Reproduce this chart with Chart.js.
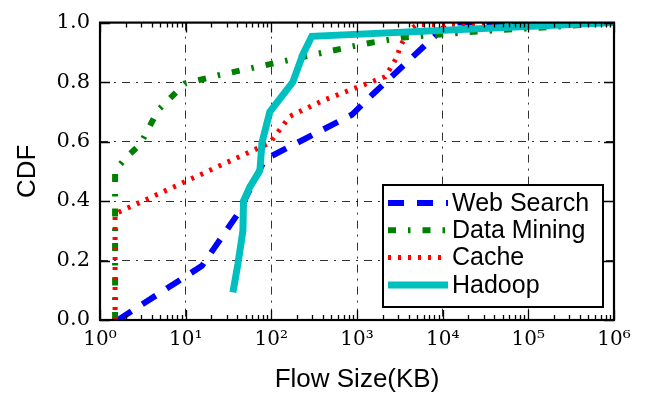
<!DOCTYPE html>
<html>
<head>
<meta charset="utf-8">
<script src="https://cdn.jsdelivr.net/npm/chart.js@4.4.1/dist/chart.umd.min.js"></script>
<style>
    html, body { margin: 0; padding: 0; background: #fff; }
</style>
</head>
<body>
<canvas id="cdfChart" width="650" height="395"></canvas>
<script>
// ─── Data (flow size in KB, CDF) ──────────────────────────────────────────
const webSearchKB   = [1.62, 15.5, 40, 84, 870, 1540, 5400, 12000, 1e6];
const webSearchCDF  = [0, 0.182, 0.354, 0.54, 0.69, 0.76, 0.907, 1.0, 1.0];

const dataMiningKB  = [1.5, 1.5, 2.12, 2.93, 4.75, 6.56, 9.8, 25, 68, 178, 480, 1310, 3440, 9300, 25000, 480000, 1e6];
const dataMiningCDF = [0, 0.503, 0.553, 0.589, 0.705, 0.745, 0.795, 0.824, 0.851, 0.877, 0.904, 0.93, 0.95, 0.96, 0.97, 0.993, 1.0];

const cacheKB       = [1.5, 1.5, 96, 165, 400, 1310, 2130, 2420, 2930, 3170, 3620, 4150, 5000, 1e6];
const cacheCDF      = [0, 0.357, 0.596, 0.685, 0.738, 0.795, 0.818, 0.844, 0.884, 0.917, 0.95, 0.977, 0.993, 1.0];

const hadoopKB      = [35.6, 40.8, 46.6, 47.3, 56, 73.6, 77.7, 96, 178, 234, 297, 1e6];
const hadoopCDF     = [0.093, 0.19, 0.30, 0.40, 0.447, 0.503, 0.596, 0.70, 0.80, 0.894, 0.954, 1.0];

const xDecades = [1, 10, 100, 1000, 10000, 100000, 1000000];
const yTicks   = [0, 0.2, 0.4, 0.6, 0.8, 1.0];
const SUP = ['⁰', '¹', '²', '³', '⁴', '⁵', '⁶'];

const toPoints = (xs, ys) => xs.map((v, i) => ({ x: v, y: ys[i] }));

const SERIF = "'DejaVu Serif', serif";
const SANS  = "'Liberation Sans', Arial, sans-serif";

// ─── Frame, inward ticks and legend box ───────────────────────────────────
const framePlugin = {
    id: 'frame',
    afterDatasetsDraw(chart) {
        const { ctx, chartArea: a, scales: { x, y } } = chart;
        ctx.save();
        ctx.strokeStyle = '#000';
        ctx.lineWidth = 1.3;
        ctx.beginPath();
        for (let d = 0; d < xDecades.length - 1; d++) {
            for (let m = 2; m <= 9; m++) {
                const px = Math.round(x.getPixelForValue(m * xDecades[d])) + 0.5;
                ctx.moveTo(px, a.bottom); ctx.lineTo(px, a.bottom - 5);
                ctx.moveTo(px, a.top);    ctx.lineTo(px, a.top + 5);
            }
        }
        xDecades.forEach(v => {
            const px = Math.round(x.getPixelForValue(v)) + 0.5;
            ctx.moveTo(px, a.bottom); ctx.lineTo(px, a.bottom - 10);
            ctx.moveTo(px, a.top);    ctx.lineTo(px, a.top + 10);
        });
        yTicks.forEach(v => {
            const py = Math.round(y.getPixelForValue(v)) + 0.5;
            ctx.moveTo(a.left, py);  ctx.lineTo(a.left + 10, py);
            ctx.moveTo(a.right, py); ctx.lineTo(a.right - 10, py);
        });
        ctx.stroke();

        ctx.lineWidth = 2.2;
        ctx.strokeRect(a.left, a.top, a.right - a.left, a.bottom - a.top);

        // legend
        const bx = a.right - 231, by = a.bottom - 135, bw = 220, bh = 122;
        ctx.fillStyle = '#fff';
        ctx.fillRect(bx, by, bw, bh);
        ctx.lineWidth = 2;
        ctx.strokeRect(bx, by, bw, bh);
        ctx.font = '25px ' + SANS;
        ctx.textBaseline = 'middle';
        ctx.textAlign = 'left';
        chart.data.datasets.forEach((ds, i) => {
            const ly = by + 18 + i * 27.3;
            ctx.save();
            ctx.strokeStyle = ds.borderColor;
            ctx.lineWidth = ds.borderWidth;
            ctx.setLineDash(ds.borderDash || []);
            ctx.lineCap = 'butt';
            ctx.beginPath();
            ctx.moveTo(bx + 5, ly);
            ctx.lineTo(bx + 65, ly);
            ctx.stroke();
            ctx.restore();
            ctx.fillStyle = '#000';
            ctx.fillText(ds.label, bx + 69, ly + 1);
        });
        ctx.restore();
    }
};

new Chart(document.getElementById('cdfChart'), {
    type: 'line',
    data: {
        datasets: [
            {
                label: 'Web Search',
                data: toPoints(webSearchKB, webSearchCDF),
                borderColor: '#0000ff',
                borderWidth: 6,
                borderDash: [16, 13],
                order: 4,
            },
            {
                label: 'Data Mining',
                data: toPoints(dataMiningKB, dataMiningCDF),
                borderColor: '#008000',
                borderWidth: 6,
                borderDash: [8, 12, 2.5, 12],
                order: 3,
            },
            {
                label: 'Cache',
                data: toPoints(cacheKB, cacheCDF),
                borderColor: '#ff0000',
                borderWidth: 5,
                borderDash: [3, 7],
                order: 2,
            },
            {
                label: 'Hadoop',
                data: toPoints(hadoopKB, hadoopCDF),
                borderColor: '#00bfbf',
                borderWidth: 7,
                order: 1,
            },
        ]
    },
    options: {
        responsive: false,
        animation: false,
        devicePixelRatio: 1,
        layout: { padding: { top: 18, right: 36, left: 0, bottom: 0 } },
        elements: {
            point: { radius: 0, hoverRadius: 0 },
            line: { tension: 0, fill: false, borderCapStyle: 'butt', borderJoinStyle: 'miter' }
        },
        plugins: {
            legend: { display: false },
            tooltip: { enabled: false },
        },
        scales: {
            x: {
                type: 'logarithmic',
                min: 1,
                max: 1e6,
                afterBuildTicks: (scale) => {
                    scale.ticks = xDecades.map(v => ({ value: v, major: true }));
                },
                afterFit: (scale) => { scale.height = 75; },
                ticks: {
                    autoSkip: false,
                    maxRotation: 0,
                    padding: 8,
                    color: '#000',
                    font: { size: 20, family: SERIF },
                    callback: (v) => '10' + SUP[Math.round(Math.log10(v))],
                },
                grid: { color: 'rgba(0,0,0,0.8)', lineWidth: 1, drawTicks: false },
                border: { display: false, dash: [8, 6, 2, 6] },
                title: {
                    display: true,
                    text: 'Flow Size(KB)',
                    color: '#000',
                    font: { size: 26, family: SANS },
                    padding: { top: 0, bottom: 0 },
                },
            },
            y: {
                min: 0,
                max: 1,
                afterBuildTicks: (scale) => {
                    scale.ticks = yTicks.map(v => ({ value: v }));
                },
                afterFit: (scale) => { scale.width = 100; },
                ticks: {
                    padding: 10,
                    color: '#000',
                    font: { size: 21, family: SERIF },
                    callback: (v) => v.toFixed(1),
                },
                grid: { color: 'rgba(0,0,0,0.8)', lineWidth: 1, drawTicks: false },
                border: { display: false, dash: [8, 6, 2, 6] },
                title: {
                    display: true,
                    text: 'CDF',
                    color: '#000',
                    font: { size: 26, family: SANS },
                    padding: { top: 12, bottom: 0 },
                },
            },
        }
    },
    plugins: [framePlugin]
});
</script>
</body>
</html>
